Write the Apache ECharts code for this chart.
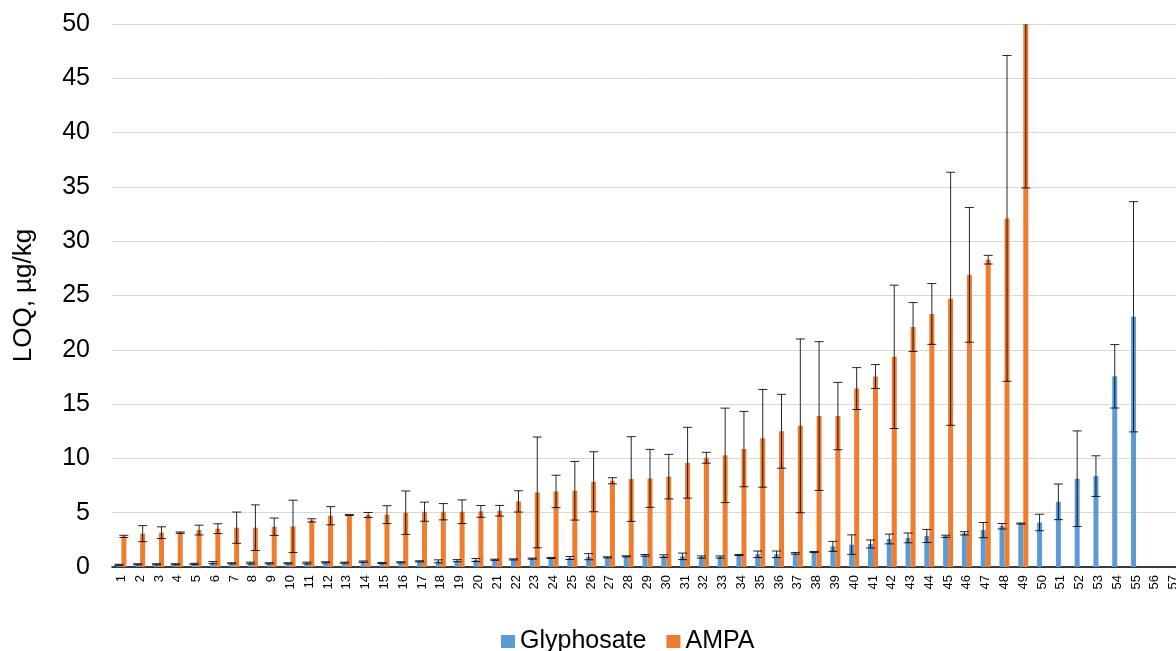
<!DOCTYPE html>
<html>
<head>
<meta charset="utf-8">
<script src="https://cdn.jsdelivr.net/npm/echarts@6/dist/echarts.min.js"></script>
<style>html,body{margin:0;padding:0;background:#fff;overflow:hidden}#c{width:1183px;height:651px}</style>
</head>
<body>
<div id="c"></div>
<script>
const categories = [];
for (let i = 1; i <= 57; i++) categories.push(String(i));

const glyphosate = [0.2,0.25,0.25,0.25,0.28,0.4,0.34,0.37,0.34,0.34,0.37,0.43,0.4,0.49,0.37,0.43,0.52,0.52,0.58,0.64,0.67,0.7,0.77,0.83,0.83,0.95,0.89,0.98,1.07,1.0,
  0.98,0.92,0.92,1.1,1.17,1.17,1.26,1.38,1.9,2.06,2.12,2.58,2.68,2.86,2.83,3.1,3.4,3.75,4.0,4.1,6.0,8.13,8.37,17.56,23.04,null,null];
const glyphosateErr = [0.05,0.05,0.05,0.05,0.06,0.1,0.05,0.08,0.05,0.05,0.08,0.05,0.05,0.06,0.05,0.05,0.05,0.14,0.1,0.14,0.05,0.05,0.05,0.05,0.14,0.28,0.05,0.05,0.08,0.12,
  0.3,0.1,0.1,0.05,0.3,0.3,0.08,0.05,0.46,0.9,0.37,0.45,0.45,0.6,0.1,0.15,0.7,0.25,0.05,0.76,1.64,4.4,1.87,2.92,10.6,null,null];
const ampa = [2.82,3.07,3.16,3.16,3.4,3.53,3.62,3.62,3.71,3.74,4.29,4.72,4.79,4.79,4.82,5.0,5.09,5.09,5.09,5.12,5.18,6.04,6.87,6.96,7.02,7.85,7.94,8.1,8.16,8.32,
  9.6,10.06,10.28,10.86,11.85,12.5,13.0,13.9,13.9,16.43,17.54,19.35,22.1,23.3,24.7,26.9,28.3,32.1,50,null,null,null,null,null,null,null,null];
const ampaErr = [0.1,0.74,0.54,0.06,0.45,0.45,1.44,2.1,0.8,2.41,0.15,0.84,0.05,0.23,0.82,2.0,0.88,0.75,1.09,0.54,0.49,0.98,5.1,1.49,2.7,2.76,0.28,3.9,2.67,2.05,
  3.26,0.5,4.35,3.47,4.5,3.4,8.0,6.85,3.1,1.93,1.1,6.6,2.25,2.8,11.65,6.2,0.4,15.0,15.1,null,null,null,null,null,null,null,null];
const yTicks = [0,5,10,15,20,25,30,35,40,45,50];

const BAR_W = 5;
const FONT = '"Liberation Sans", Arial, sans-serif';

function errData(vals, errs) {
  const out = [];
  vals.forEach((v, i) => { if (v != null && errs[i] != null) out.push([i, v, errs[i]]); });
  return out;
}

function makeErr(offset) {
  return function (params, api) {
    const i = api.value(0), v = api.value(1), e = api.value(2);
    const hi = api.coord([i, v + e]);
    const lo = api.coord([i, v - e]);
    const x = hi[0] + offset;
    const cap = 4.5;
    const st = { stroke: '#000', lineWidth: 1, opacity: 0.85 };
    return {
      type: 'group',
      children: [
        { type: 'line', shape: { x1: x, y1: hi[1], x2: x, y2: lo[1] }, style: st },
        { type: 'line', shape: { x1: x - cap, y1: hi[1], x2: x + cap, y2: hi[1] }, style: st },
        { type: 'line', shape: { x1: x - cap, y1: lo[1], x2: x + cap, y2: lo[1] }, style: st }
      ]
    };
  };
}

const chart = echarts.init(document.getElementById('c'));
chart.setOption({
  animation: false,
  textStyle: { fontFamily: FONT },
  grid: { left: 112, top: 24, right: 0, bottom: 84, containLabel: false },
  legend: {
    left: 496, top: 624,
    itemWidth: 14, itemHeight: 13, itemGap: 20,
    textStyle: { fontSize: 25, color: '#000', fontFamily: FONT },
    data: [{ name: 'Glyphosate', icon: 'rect' }, { name: 'AMPA', icon: 'rect' }]
  },
  xAxis: {
    type: 'category',
    data: categories,
    axisLine: { lineStyle: { color: '#000', width: 1.5 } },
    axisTick: { show: false },
    axisLabel: { interval: 0, rotate: 90, fontSize: 13, color: '#000', margin: 8, fontFamily: FONT }
  },
  yAxis: {
    type: 'value',
    min: 0, max: 50, interval: 5,
    name: 'LOQ, µg/kg',
    nameLocation: 'middle',
    nameRotate: 90,
    nameGap: 75,
    nameTextStyle: { fontSize: 26, color: '#000', fontFamily: FONT },
    axisLine: { show: false },
    axisTick: { show: false },
    splitLine: { lineStyle: { color: '#d9d9d9', width: 1 } },
    axisLabel: {
      fontSize: 25, color: '#000', margin: 22, fontFamily: FONT,
      formatter: v => yTicks.includes(v) ? String(v) : ''
    }
  },
  series: [
    { name: 'Glyphosate', type: 'bar', data: glyphosate, barWidth: BAR_W, barGap: '0%', itemStyle: { color: '#5B9BD5' } },
    { name: 'AMPA', type: 'bar', data: ampa, barWidth: BAR_W, barGap: '0%', itemStyle: { color: '#ED7D31' } },
    { name: 'Glyphosate err', type: 'custom', data: errData(glyphosate, glyphosateErr), renderItem: makeErr(-BAR_W / 2), clip: true, z: 5, silent: true },
    { name: 'AMPA err', type: 'custom', data: errData(ampa, ampaErr), renderItem: makeErr(BAR_W / 2), clip: true, z: 5, silent: true }
  ]
});
</script>
</body>
</html>
